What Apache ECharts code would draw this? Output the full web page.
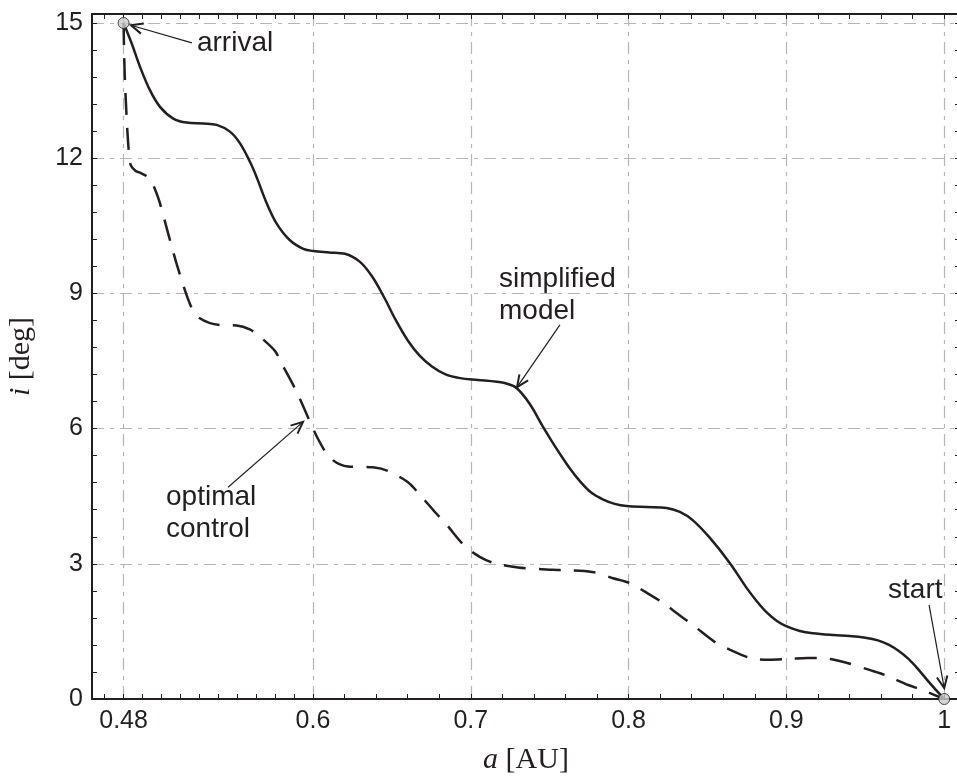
<!DOCTYPE html>
<html><head><meta charset="utf-8">
<script src="https://cdn.jsdelivr.net/npm/echarts@6/dist/echarts.min.js"></script>
<style>html,body{margin:0;padding:0;background:#fff}#c{width:957px;height:776px}</style>
</head><body><div id="c"></div>
<script>
// ---- data ----
const simplifiedA = [0.48, 0.4851, 0.4904, 0.4967, 0.5031, 0.5115, 0.52, 0.5305, 0.539, 0.5474, 0.5538, 0.5601, 0.5643, 0.5707, 0.577, 0.5854, 0.5939, 0.6002, 0.6103, 0.6203, 0.6298, 0.6374, 0.645, 0.6526, 0.6602, 0.6676, 0.6754, 0.6837, 0.6932, 0.7045, 0.7164, 0.7225, 0.729, 0.7373, 0.7456, 0.751, 0.7563, 0.7627, 0.769, 0.7763, 0.7836, 0.7912, 0.7988, 0.8115, 0.8241, 0.8325, 0.8406, 0.8514, 0.8641, 0.8749, 0.8812, 0.8875, 0.894, 0.9002, 0.9085, 0.9167, 0.93, 0.94, 0.95, 0.958, 0.965, 0.971, 0.977, 0.983, 0.989, 0.995, 1.0];
const simplifiedI = [15, 14.55, 14.03, 13.51, 13.14, 12.88, 12.79, 12.77, 12.74, 12.59, 12.33, 11.92, 11.58, 11.0, 10.55, 10.18, 9.99, 9.94, 9.91, 9.88, 9.70, 9.38, 8.92, 8.40, 7.95, 7.62, 7.38, 7.21, 7.12, 7.08, 7.04, 7.0, 6.90, 6.55, 6.05, 5.74, 5.45, 5.12, 4.84, 4.58, 4.43, 4.33, 4.28, 4.26, 4.24, 4.15, 3.97, 3.58, 3.02, 2.46, 2.17, 1.92, 1.73, 1.61, 1.51, 1.46, 1.42, 1.40, 1.36, 1.30, 1.20, 1.07, 0.90, 0.68, 0.43, 0.19, 0];
const optimalA = [0.48, 0.4806, 0.4818, 0.4832, 0.4845, 0.4875, 0.4904, 0.4967, 0.4996, 0.5028, 0.5085, 0.5142, 0.5218, 0.5269, 0.5408, 0.5516, 0.56, 0.567, 0.576, 0.5801, 0.5899, 0.5994, 0.6031, 0.608, 0.6126, 0.6175, 0.6222, 0.6381, 0.6475, 0.6602, 0.6678, 0.6773, 0.6849, 0.6944, 0.7027, 0.7097, 0.7166, 0.73, 0.745, 0.7566, 0.7769, 0.7902, 0.801, 0.8137, 0.8219, 0.8346, 0.8422, 0.8549, 0.8644, 0.8771, 0.8885, 0.9024, 0.9132, 0.9278, 0.9385, 0.9531, 0.9626, 0.9772, 0.9861, 1.0];
const optimalI = [15, 14.0, 13.0, 12.2, 11.85, 11.72, 11.68, 11.55, 11.34, 11.03, 10.3, 9.59, 8.79, 8.48, 8.30, 8.29, 8.2, 8.02, 7.72, 7.45, 6.8, 6.05, 5.78, 5.48, 5.30, 5.20, 5.16, 5.14, 5.06, 4.81, 4.53, 4.15, 3.86, 3.46, 3.22, 3.08, 3.0, 2.92, 2.88, 2.86, 2.82, 2.68, 2.57, 2.31, 2.13, 1.80, 1.60, 1.26, 1.09, 0.91, 0.87, 0.89, 0.91, 0.89, 0.80, 0.64, 0.53, 0.31, 0.20, 0];
const endpointsA = [0.48, 1.0];
const endpointsI = [15, 0];
const xMajorTicks = [0.48, 0.6, 0.7, 0.8, 0.9, 1];
const xMinorTicks = [0.468, 0.48, 0.492, 0.504, 0.516, 0.528, 0.54, 0.552, 0.564, 0.576, 0.588, 0.6, 0.62, 0.64, 0.66, 0.68, 0.7, 0.72, 0.74, 0.76, 0.78, 0.8, 0.82, 0.84, 0.86, 0.88, 0.9, 0.92, 0.94, 0.96, 0.98, 1.0];
const yMajorTicks = [0, 3, 6, 9, 12, 15];
const yMinorTicks = [0, 0.6, 1.2, 1.8, 2.4, 3, 3.6, 4.2, 4.8, 5.4, 6, 6.6, 7.2, 7.8, 8.4, 9, 9.6, 10.2, 10.8, 11.4, 12, 12.6, 13.2, 13.8, 14.4, 15];
const annotationLabels = ['arrival', 'simplified\nmodel', 'optimal\ncontrol', 'start'];
const labelA = [0.5265, 0.7179, 0.5069, 0.9644];
const labelI = [14.56, 8.95, 4.12, 2.42];
const arrowTailA = [0.5233, 0.7565, 0.5462, 0.9904];
const arrowTailI = [14.56, 8.30, 4.70, 2.09];
const arrowTipA = [0.4847, 0.7293, 0.5937, 1.0];
const arrowTipI = [14.95, 6.92, 6.15, 0.24];

// ---- chart ----
const INK = '#231f20';
const GRID = '#b5b5b5';
const chart = echarts.init(document.getElementById('c'), null, {renderer: 'canvas'});
const zip = (a, b) => a.map((v, k) => [v, b[k]]);

function renderAnnotation(params, api) {
  const k = params.dataIndex;
  const tail = api.coord([arrowTailA[k], arrowTailI[k]]);
  const tip = api.coord([arrowTipA[k], arrowTipI[k]]);
  const tp = api.coord([labelA[k], labelI[k]]);
  const dx = tip[0] - tail[0], dy = tip[1] - tail[1];
  const len = Math.hypot(dx, dy);
  const bx = -dx / len, by = -dy / len;
  const L = 13, th = 24 * Math.PI / 180, c = Math.cos(th), s = Math.sin(th);
  const p1 = [tip[0] + L * (bx * c - by * s), tip[1] + L * (bx * s + by * c)];
  const p2 = [tip[0] + L * (bx * c + by * s), tip[1] + L * (-bx * s + by * c)];
  return {
    type: 'group',
    children: [
      {type: 'line', shape: {x1: tail[0], y1: tail[1], x2: tip[0], y2: tip[1]}, style: {stroke: INK, lineWidth: 1.2}},
      {type: 'polyline', shape: {points: [p1, tip, p2]}, style: {stroke: INK, lineWidth: 2, fill: null}},
      {type: 'text', x: tp[0], y: tp[1], style: {text: annotationLabels[k], fontSize: 28, fontFamily: 'Liberation Sans', fill: INK, align: 'left', verticalAlign: 'middle', lineHeight: 32}}
    ]
  };
}

const xBase = {type: 'value', min: 0.46, max: 1.01, gridIndex: 0};
const yBase = {type: 'value', min: 0, max: 15.2, gridIndex: 0};
const noLabel = {show: false};
const noSplit = {show: false};

chart.setOption({
  animation: false,
  backgroundColor: '#ffffff',
  grid: {left: 92, top: 14, width: 868, height: 685, outerBoundsMode: 'none', containLabel: false},
  xAxis: [
    Object.assign({}, xBase, {
      position: 'bottom',
      axisLine: {show: true, onZero: false, lineStyle: {color: INK, width: 2}},
      axisTick: {show: true, inside: true, length: 5, customValues: xMajorTicks, lineStyle: {color: INK, width: 1}},
      axisLabel: {show: true, customValues: xMajorTicks, fontSize: 25, fontFamily: 'Liberation Sans', color: INK, margin: 10},
      splitLine: {show: true, lineStyle: {color: GRID, width: 1.2, type: [12, 6, 4, 6]}},
      name: '{it|a} [AU]',
      nameLocation: 'middle',
      nameGap: 46,
      nameTextStyle: {fontFamily: 'Liberation Serif', fontSize: 30, color: INK, rich: {it: {fontFamily: 'Liberation Serif', fontStyle: 'italic', fontSize: 30, color: INK}}}
    }),
    Object.assign({}, xBase, {
      position: 'bottom',
      axisLine: {show: false, onZero: false},
      axisTick: {show: true, inside: true, length: 5, customValues: xMinorTicks, lineStyle: {color: INK, width: 1}},
      axisLabel: noLabel, splitLine: noSplit
    }),
    Object.assign({}, xBase, {
      position: 'top',
      axisLine: {show: true, onZero: false, lineStyle: {color: INK, width: 2}},
      axisTick: {show: true, inside: true, length: 5, customValues: xMinorTicks, lineStyle: {color: INK, width: 1}},
      axisLabel: noLabel, splitLine: noSplit
    })
  ],
  yAxis: [
    Object.assign({}, yBase, {
      position: 'left',
      axisLine: {show: true, onZero: false, lineStyle: {color: INK, width: 2}},
      axisTick: {show: true, inside: true, length: 5, customValues: yMajorTicks, lineStyle: {color: INK, width: 1}},
      axisLabel: {show: true, customValues: yMajorTicks, fontSize: 25, fontFamily: 'Liberation Sans', color: INK, margin: 9},
      splitLine: {show: true, lineStyle: {color: GRID, width: 1.2, type: [12, 6, 4, 6]}},
      name: '{it|i} [deg]',
      nameLocation: 'middle',
      nameGap: 56,
      nameTextStyle: {fontFamily: 'Liberation Serif', fontSize: 30, color: INK, rich: {it: {fontFamily: 'Liberation Serif', fontStyle: 'italic', fontSize: 30, color: INK}}}
    }),
    Object.assign({}, yBase, {
      position: 'left',
      axisLine: {show: false, onZero: false},
      axisTick: {show: true, inside: true, length: 5, customValues: yMinorTicks, lineStyle: {color: INK, width: 1}},
      axisLabel: noLabel, splitLine: noSplit
    }),
    Object.assign({}, yBase, {
      position: 'right',
      axisLine: {show: true, onZero: false, lineStyle: {color: INK, width: 2}},
      axisTick: {show: true, inside: true, length: 5, customValues: yMinorTicks, lineStyle: {color: INK, width: 1}},
      axisLabel: noLabel, splitLine: noSplit
    })
  ],
  series: [
    {
      name: 'optimal control', type: 'line', xAxisIndex: 0, yAxisIndex: 0,
      data: zip(optimalA, optimalI), showSymbol: false, smooth: 0.3, clip: false,
      lineStyle: {color: INK, width: 2.5, type: [22, 13]}, z: 3
    },
    {
      name: 'simplified model', type: 'line', xAxisIndex: 0, yAxisIndex: 0,
      data: zip(simplifiedA, simplifiedI), showSymbol: false, smooth: 0.35, clip: false,
      lineStyle: {color: INK, width: 2.5}, z: 3
    },
    {
      name: 'annotations', type: 'custom', xAxisIndex: 0, yAxisIndex: 0,
      data: zip(arrowTipA, arrowTipI), renderItem: renderAnnotation, silent: true, z: 4
    },
    {
      name: 'endpoints', type: 'scatter', xAxisIndex: 0, yAxisIndex: 0,
      data: zip(endpointsA, endpointsI), symbol: 'circle', symbolSize: 11, clip: false,
      itemStyle: {color: '#cccccc', borderColor: INK, borderWidth: 1}, z: 5
    }
  ]
});
</script></body></html>
